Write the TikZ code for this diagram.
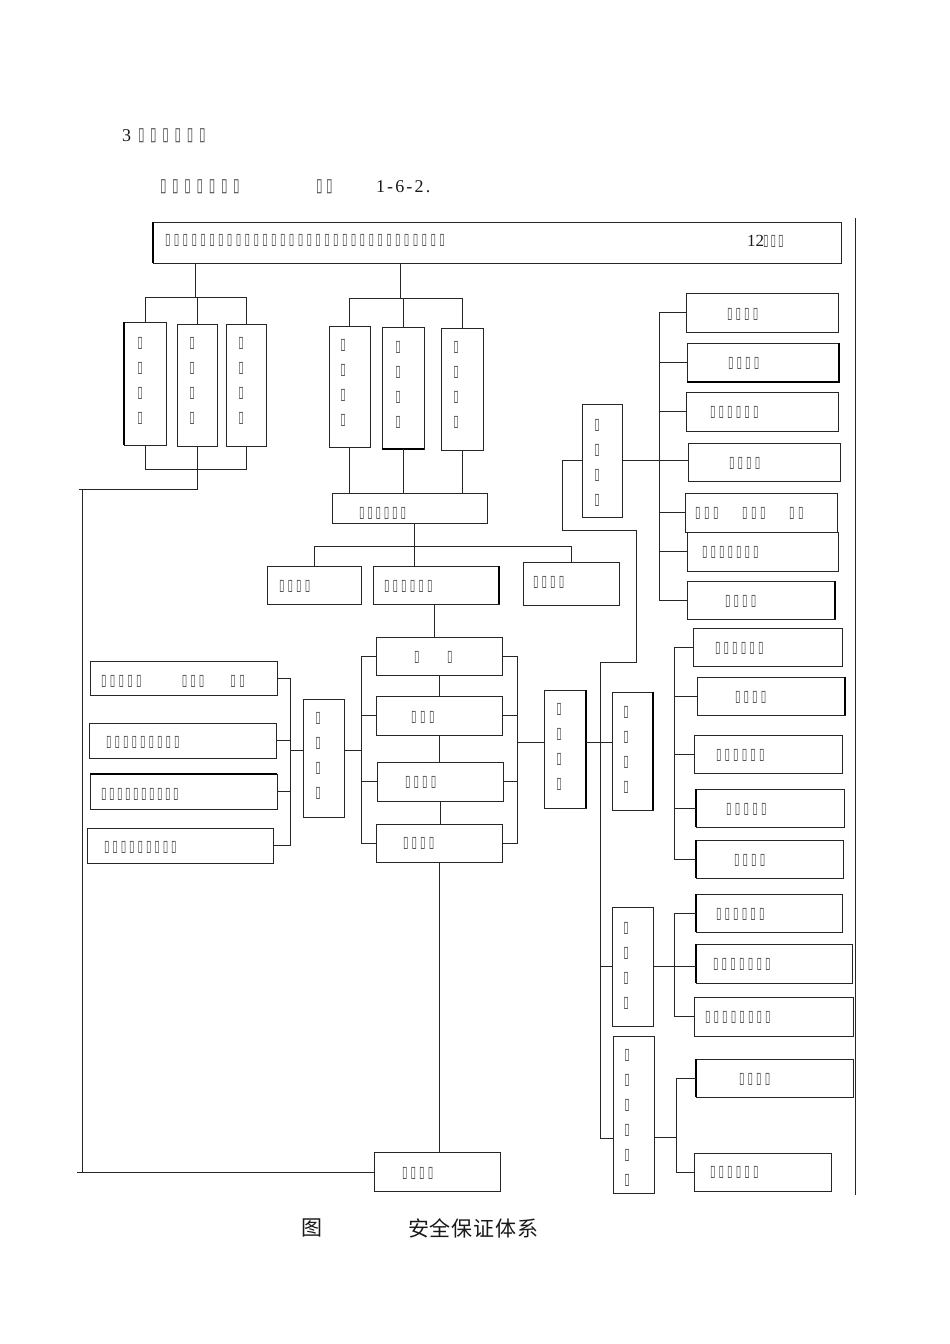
\documentclass[tikz,border=0pt]{standalone}
\usepackage{fontspec}
\usepackage{graphicx}
\newfontfamily\tofufont{DejaVu Sans}
\newfontfamily\cjk{Noto Sans CJK SC}
\newfontfamily\numfont{Liberation Serif}
\newcommand\tofuglyph{\resizebox*{5.5pt}{12pt}{\tofufont ▯}}
\newcommand\bigtofu{\resizebox*{6.5pt}{14pt}{\tofufont ▯}}
\ExplSyntaxOn
\NewDocumentCommand\tofus{O{8.6pt}m}{\prg_replicate:nn{#2}{\makebox[#1][l]{\tofuglyph}}}
\NewDocumentCommand\bigtofus{O{12.2pt}m}{\prg_replicate:nn{#2}{\makebox[#1][l]{\bigtofu}}}
\NewDocumentCommand\vtofus{m}{\prg_replicate:nn{#1-1}{\tofuglyph\\}\tofuglyph}
\ExplSyntaxOff
\newcommand\bx[5]{\node[box, minimum width={(#4-#2)*1pt}, minimum height={(#5-#3)*1pt}] (#1) at ({(#2+#4)/2},{(#3+#5)/2}) {};}
\tikzset{
  box/.style={draw=black!85, line width=1pt, inner sep=0pt, outer sep=0pt},
  cn/.style={draw=black!85, line width=1pt},
  thk/.style={draw=black, line width=2pt},
  txt/.style={inner sep=0pt, outer sep=0pt, anchor=west, text=black!75},
  vtxt/.style={inner sep=0pt, outer sep=0pt, anchor=north, align=center, text=black!75, font=\fontsize{10pt}{25pt}\selectfont},
  num/.style={inner sep=0pt, outer sep=0pt, anchor=west, text=black!90}
}
\begin{document}
\begin{tikzpicture}[x=1pt, y=-1pt]
\useasboundingbox[fill=white] (0,0) rectangle (950,1344);

% ---- header ----
\node[num, font=\fontsize{18pt}{18pt}\numfont] (hd1n) at (122,136) {3};
\node[txt] (hd1t) at (138,136) {\bigtofus{6}};
\node[txt] (hd2t) at (160,187) {\bigtofus{7}};
\node[txt] (hd2u) at (316,187) {\bigtofus[10pt]{2}};
\node[num, font=\fontsize{18pt}{18pt}\numfont\addfontfeatures{LetterSpace=12}] (hd2n) at (376,187) {1-6-2.};

% ---- boxes ----
\bx{top}{153}{222}{841}{263}
\bx{a1}{124}{322}{166}{445}
\bx{a2}{177}{324}{217}{446}
\bx{a3}{226}{324}{266}{446}
\bx{b1}{329}{326}{370}{447}
\bx{b2}{382}{327}{424}{449}
\bx{b3}{441}{328}{483}{450}
\bx{c}{332}{493}{487}{523}
\bx{d1}{267}{566}{361}{604}
\bx{d2}{373}{566}{499}{604}
\bx{d3}{523}{562}{619}{605}
\bx{e1}{376}{637}{502}{675}
\bx{e2}{376}{696}{502}{735}
\bx{e3}{377}{762}{503}{801}
\bx{e4}{376}{824}{502}{862}
\bx{f}{374}{1152}{500}{1191}
\bx{g}{303}{699}{344}{817}
\bx{h1}{90}{661}{277}{695}
\bx{h2}{89}{723}{276}{758}
\bx{h3}{90}{774}{277}{809}
\bx{h4}{87}{828}{273}{863}
\bx{i}{544}{690}{586}{808}
\bx{j}{582}{404}{622}{517}
\bx{k1}{686}{293}{838}{332}
\bx{k2}{687}{343}{839}{382}
\bx{k3}{686}{392}{838}{431}
\bx{k4}{688}{443}{840}{481}
\bx{k5}{685}{493}{837}{532}
\bx{k6}{687}{532}{838}{571}
\bx{k7}{687}{581}{835}{619}
\bx{l}{612}{692}{653}{810}
\bx{m1}{693}{628}{842}{666}
\bx{m2}{697}{677}{845}{715}
\bx{m3}{694}{735}{842}{773}
\bx{m4}{696}{789}{844}{827}
\bx{m5}{696}{840}{843}{878}
\bx{n}{612}{907}{653}{1026}
\bx{o1}{696}{894}{842}{932}
\bx{o2}{696}{944}{852}{983}
\bx{o3}{694}{997}{853}{1036}
\bx{p}{613}{1036}{654}{1193}
\bx{q1}{696}{1059}{853}{1097}
\bx{q2}{694}{1153}{831}{1191}

% thicker edges
\draw[thk] (top.north west) -- (top.south west);
\draw[thk] (a1.north west) -- (a1.south west);
\draw[thk] (b2.south west) -- (b2.south east);
\draw[thk] (d2.north east) -- (d2.south east);
\draw[thk] (k2.south west) -- (k2.south east) -- (k2.north east);
\draw[thk] (k7.north east) -- (k7.south east);
\draw[thk] (i.north east) -- (i.south east);
\draw[thk] (l.north east) -- (l.south east);
\draw[thk] (m2.north east) -- (m2.south east);
\draw[thk] (m4.north west) -- (m4.south west);
\draw[thk] (m5.north west) -- (m5.south west);
\draw[thk] (o1.north west) -- (o1.south west);
\draw[thk] (o2.north west) -- (o2.south west);
\draw[thk] (q1.north west) -- (q1.south west);
\draw[thk] (h3.north west) -- (h3.north east);

% right border line
\draw[cn] (855,218) -- (855,1195);

% ---- connectors ----
\coordinate (lb) at (195,297);
\draw[cn] (top.south -| lb) -- (lb);
\draw[cn] (a1.north) |- (a3.north |- lb) -- (a3.north);
\draw[cn] (a2.north) -- (a2.north |- lb);
\coordinate (lbb) at (196,469);
\draw[cn] (a1.south) |- (a3.south |- lbb) -- (a3.south);
\coordinate (lc1) at (82,489);
\coordinate (lc2) at (82,1172);
\coordinate (lc0) at (79,489);
\coordinate (lc3) at (77,1172);
\draw[cn] (a2.south) |- (lc0);
\draw[cn] (lc1) -- (lc2);
\draw[cn] (lc3) -- (f.west |- lc3);

\coordinate (mb) at (400,298);
\draw[cn] (top.south -| mb) -- (mb);
\draw[cn] (b1.north) |- (b3.north |- mb) -- (b3.north);
\draw[cn] (b2.north) -- (b2.north |- mb);
\draw[cn] (b1.south) -- (b1.south |- c.north);
\draw[cn] (b2.south) -- (b2.south |- c.north);
\draw[cn] (b3.south) -- (b3.south |- c.north);

\coordinate (cb) at (414,546);
\draw[cn] (c.south -| cb) -- (d2.north -| cb);
\draw[cn] (d1.north) |- (d3.north |- cb) -- (d3.north);

\coordinate (dx) at (434,0);
\draw[cn] (d2.south -| dx) -- (e1.north -| dx);
\draw[cn] (e1.south) -- (e2.north);
\draw[cn] (e2.south) -- (e2.south |- e3.north);
\draw[cn] (e3.south) -- (e3.south |- e4.north);
\draw[cn] (e4.south) -- (e4.south |- f.north);

\coordinate (ls) at (361,750);
\draw[cn] (e1.west) -| (ls |- e4.west) -- (e4.west);
\draw[cn] (e2.west) -- (e2.west -| ls);
\draw[cn] (e3.west) -- (e3.west -| ls);
\draw[cn] (g.east |- ls) -- (ls);

\coordinate (gs) at (290,750);
\draw[cn] (g.west |- gs) -- (gs);
\draw[cn] (h1.east) -| (gs |- h4.east) -- (h4.east);
\draw[cn] (h2.east) -- (h2.east -| gs);
\draw[cn] (h3.east) -- (h3.east -| gs);

\coordinate (rs) at (517,742);
\draw[cn] (e1.east) -| (rs |- e4.east) -- (e4.east);
\draw[cn] (e2.east) -- (e2.east -| rs);
\draw[cn] (e3.east) -- (e3.east -| rs);
\draw[cn] (rs) -- (i.west |- rs);

\coordinate (vl1) at (600,662);
\coordinate (vl2) at (600,1138);
\draw[cn] (i.east |- rs) -- (l.west |- rs);
\coordinate (jr1) at (562,530);
\coordinate (jr2) at (636,530);
\draw[cn] (j.west) -| (jr1) -- (jr2) |- (vl1) -- (vl2);

\coordinate (ks) at (659,460);
\draw[cn] (j.east) -- (j.east -| k4.west);
\draw[cn] (k1.west) -| (ks |- k7.west) -- (k7.west);
\draw[cn] (k2.west) -- (k2.west -| ks);
\draw[cn] (k3.west) -- (k3.west -| ks);
\draw[cn] (k5.west) -- (k5.west -| ks);
\draw[cn] (k6.west) -- (k6.west -| ks);

\coordinate (ms) at (674,750);
\draw[cn] (m1.west) -| (ms |- m5.west) -- (m5.west);
\draw[cn] (m2.west) -- (m2.west -| ms);
\draw[cn] (m3.west) -- (m3.west -| ms);
\draw[cn] (m4.west) -- (m4.west -| ms);

\draw[cn] (n.west) -- (n.west -| vl1);
\coordinate (ns) at (674,966);
\draw[cn] (n.east) -- (n.east -| o2.west);
\draw[cn] (o1.west) -| (ns |- o3.west) -- (o3.west);

\draw[cn] (p.west |- vl2) -- (vl2);
\coordinate (ps) at (676,1137);
\draw[cn] (p.east |- ps) -- (ps);
\draw[cn] (q1.west) -| (ps |- q2.west) -- (q2.west);

% ---- texts ----
\node[txt] (topt) at (165,240) {\tofus[8.85pt]{32}};
\node[num, font=\fontsize{17pt}{17pt}\numfont] (topn) at (747,241) {12};
\node[txt] (topu) at (763,241) {\tofus[7.5pt]{3}};

\node[vtxt] (a1t) at (140,337) {\vtofus{4}};
\node[vtxt] (a2t) at (192,337) {\vtofus{4}};
\node[vtxt] (a3t) at (241,337) {\vtofus{4}};
\node[vtxt] (b1t) at (343,339) {\vtofus{4}};
\node[vtxt] (b2t) at (398,341) {\vtofus{4}};
\node[vtxt] (b3t) at (456,341) {\vtofus{4}};
\node[vtxt] (gt) at (318,712) {\vtofus{4}};
\node[vtxt] (it) at (559,703) {\vtofus{4}};
\node[vtxt] (jt) at (597,419) {\vtofus{4}};
\node[vtxt] (lt) at (626,706) {\vtofus{4}};
\node[vtxt] (nt) at (626,922) {\vtofus{4}};
\node[vtxt] (pt) at (627,1049) {\vtofus{6}};

\node[txt] (ct) at (359,513) {\tofus[8.3pt]{6}};
\node[txt] (d1t) at (279,586) {\tofus{4}};
\node[txt] (d2t) at (384,586) {\tofus{6}};
\node[txt] (d3t) at (533,582) {\tofus{4}};
\node[txt] (e1t) at (414,657) {\tofus[33pt]{2}};
\node[txt] (e2t) at (411,717) {\tofus[9pt]{3}};
\node[txt] (e3t) at (405,782) {\tofus{4}};
\node[txt] (e4t) at (403,843) {\tofus{4}};
\node[txt] (ft) at (402,1173) {\tofus{4}};
\node[txt] (h1t) at (101,681) {\tofus[8.75pt]{5}\hspace{37pt}\tofus[8.5pt]{3}\hspace{23pt}\tofus[9pt]{2}};
\node[txt] (h2t) at (106,742) {\tofus[8.5pt]{9}};
\node[txt] (h3t) at (101,794) {\tofus[8pt]{10}};
\node[txt] (h4t) at (104,847) {\tofus[8.4pt]{9}};
\node[txt] (k1t) at (727,314) {\tofus{4}};
\node[txt] (k2t) at (728,363) {\tofus{4}};
\node[txt] (k3t) at (710,412) {\tofus{6}};
\node[txt] (k4t) at (729,463) {\tofus{4}};
\node[txt] (k5t) at (695,513) {\tofus[9pt]{3}\hspace{20pt}\tofus[9pt]{3}\hspace{20pt}\tofus[9pt]{2}};
\node[txt] (k6t) at (702,552) {\tofus[8.5pt]{7}};
\node[txt] (k7t) at (725,601) {\tofus{4}};
\node[txt] (m1t) at (715,648) {\tofus{6}};
\node[txt] (m2t) at (735,697) {\tofus{4}};
\node[txt] (m3t) at (716,755) {\tofus{6}};
\node[txt] (m4t) at (726,809) {\tofus[8.75pt]{5}};
\node[txt] (m5t) at (734,860) {\tofus{4}};
\node[txt] (o1t) at (716,914) {\tofus{6}};
\node[txt] (o2t) at (713,964) {\tofus[8.7pt]{7}};
\node[txt] (o3t) at (705,1017) {\tofus{8}};
\node[txt] (q1t) at (739,1079) {\tofus{4}};
\node[txt] (q2t) at (710,1172) {\tofus{6}};

% ---- caption ----
\node[num, font=\fontsize{21pt}{21pt}\cjk] (cap1) at (301,1228) {图};
\node[num, font=\fontsize{21pt}{21pt}\cjk\addfontfeatures{LetterSpace=4}] (cap2) at (408,1228) {安全保证体系};
\end{tikzpicture}
\end{document}
